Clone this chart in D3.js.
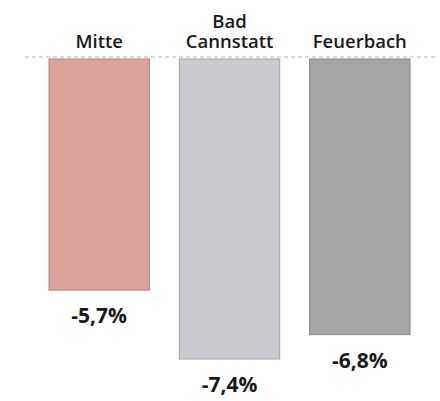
<!DOCTYPE html>
<html>
<head>
<meta charset="utf-8">
<script src="https://cdn.jsdelivr.net/npm/d3@7"></script>
<style>
  body { margin: 0; background: #fff; }
  svg { display: block; }
  text { font-family: "Open Sans", sans-serif; fill: #1a1a1a; }
</style>
</head>
<body>
<svg id="chart" width="440" height="401"></svg>
<script>
const categories = ["Mitte", "Bad Cannstatt", "Feuerbach"]
const values = [-5.7, -7.4, -6.8]
const valueLabels = ["-5,7%", "-7,4%", "-6,8%"]
const barColors = ["#dca39c", "#c9cad0", "#a5a6a7"]

const svg = d3.select("#chart")
const baseY = 59

const x = d3.scaleBand()
    .domain(categories)
    .range([49, 410])
    .paddingInner(0.23)
    .paddingOuter(0)

const y = d3.scaleLinear()
    .domain([0, -7.4])
    .range([baseY, baseY + 300])

// dashed zero line
svg.append("line")
    .attr("x1", 25).attr("x2", 436)
    .attr("y1", baseY - 2).attr("y2", baseY - 2)
    .attr("stroke", "#b8b8c0")
    .attr("stroke-width", 1.2)
    .attr("stroke-dasharray", "4,3")

const bars = svg.selectAll("g.bar")
    .data(categories)
    .enter().append("g")
    .attr("class", "bar")

bars.append("rect")
    .attr("x", d => x(d))
    .attr("y", y(0))
    .attr("width", x.bandwidth())
    .attr("height", (d, i) => y(values[i]) - y(0))
    .attr("fill", (d, i) => barColors[i])
    .attr("stroke", (d, i) => d3.color(barColors[i]).darker(0.6))
    .attr("stroke-width", 1)

// value labels below bars
bars.append("text")
    .attr("x", d => x(d) + x.bandwidth() / 2)
    .attr("y", (d, i) => y(values[i]) + 33)
    .attr("text-anchor", "middle")
    .style("font-size", "21px")
    .style("font-weight", "bold")
    .text((d, i) => valueLabels[i])

// category labels above the line, one text per line
bars.each(function(d) {
    let words = d.split(" ")
    let g = d3.select(this)
    words.forEach((w, j) => {
        g.append("text")
            .attr("x", x(d) + x.bandwidth() / 2)
            .attr("y", 48 - (words.length - 1 - j) * 20)
            .attr("text-anchor", "middle")
            .style("font-size", "18.5px")
            .style("font-weight", "600")
            .text(w)
    })
})
</script>
</body>
</html>
